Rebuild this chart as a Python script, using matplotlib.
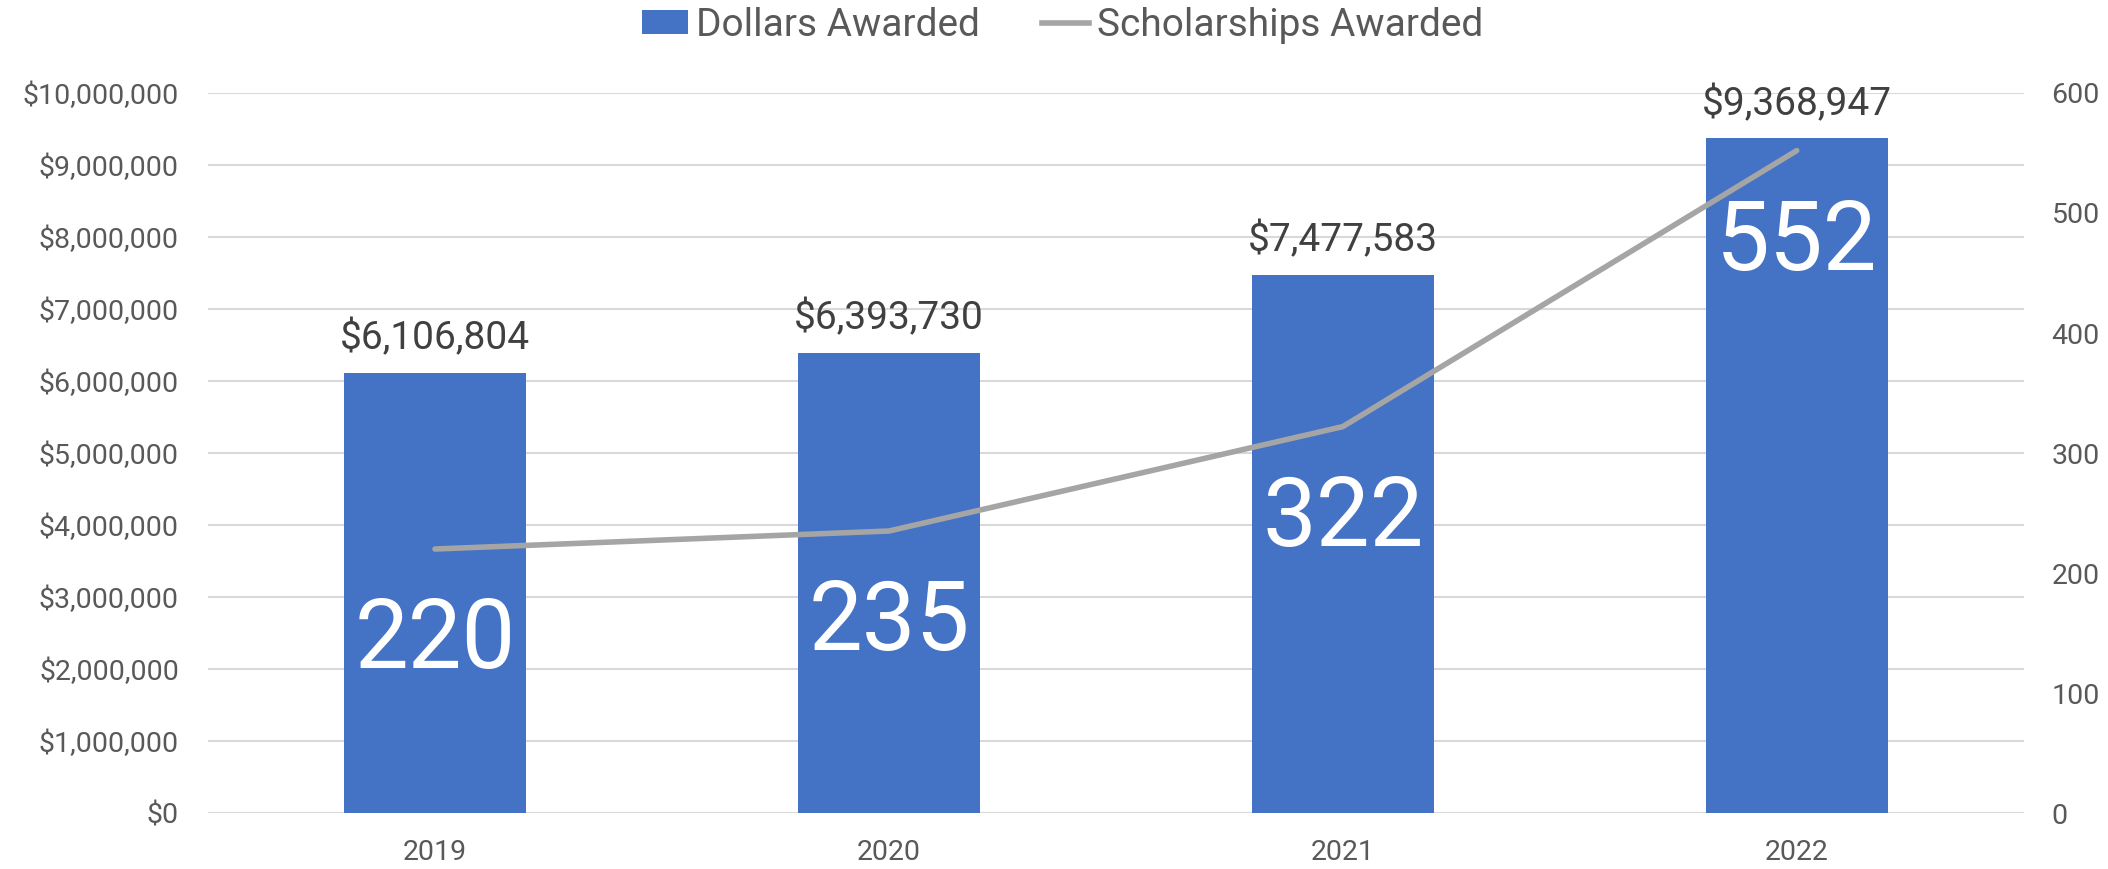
#!/usr/bin/env python3
"""Scholarship dollars and counts by year, bar + line combo chart."""
import matplotlib
matplotlib.use("Agg")
import matplotlib.pyplot as plt
from matplotlib.ticker import FuncFormatter, MultipleLocator
from matplotlib.patches import Patch
from matplotlib.lines import Line2D

years = ["2019", "2020", "2021", "2022"]
dollars = [6106804, 6393730, 7477583, 9368947]
scholarships = [220, 235, 322, 552]

BAR_COLOR = "#4472C4"
LINE_COLOR = "#A5A5A5"
GRID_COLOR = "#D9D9D9"
TICK_COLOR = "#595959"
LABEL_COLOR = "#404040"

plt.rcParams["font.family"] = ["Roboto", "DejaVu Sans"]

fig = plt.figure(figsize=(21.08, 8.69), dpi=100)
ax = fig.add_axes([0.0987, 0.0644, 0.8613, 0.8286])
x = list(range(len(years)))

ax.bar(x, dollars, width=0.4, color=BAR_COLOR, zorder=2)
ax.set_xlim(-0.5, len(years) - 0.5)
ax.set_ylim(0, 10_000_000)
ax.yaxis.set_major_locator(MultipleLocator(1_000_000))
ax.yaxis.set_major_formatter(FuncFormatter(lambda v, _: f"${v:,.0f}"))
ax.set_xticks(x)
ax.set_xticklabels(years)
ax.grid(axis="y", color=GRID_COLOR, linewidth=1.5, zorder=0)
ax.set_axisbelow(True)
for s in ax.spines.values():
    s.set_visible(False)
ax.tick_params(axis="both", length=0, labelsize=20.5, colors=TICK_COLOR)
ax.tick_params(axis="y", pad=21)
ax.tick_params(axis="x", pad=19)

for xi, d in zip(x, dollars):
    ax.annotate(f"${d:,}", (xi, d), xytext=(0, 17), textcoords="offset points",
                ha="center", va="baseline", fontsize=28, color=LABEL_COLOR)

ax2 = ax.twinx()
ax2.plot(x, scholarships, color=LINE_COLOR, linewidth=4, solid_capstyle="round", zorder=3)
ax2.set_ylim(0, 600)
ax2.yaxis.set_major_locator(MultipleLocator(100))
for s in ax2.spines.values():
    s.set_visible(False)
ax2.tick_params(axis="y", length=0, labelsize=20.5, colors=TICK_COLOR, pad=20)

for xi, n in zip(x, scholarships):
    ax2.annotate(str(n), (xi, n), xytext=(0, -86), textcoords="offset points",
                 ha="center", va="baseline", fontsize=69, color="white")

handles = [Patch(facecolor=BAR_COLOR, edgecolor="none"),
           Line2D([0], [0], color=LINE_COLOR, linewidth=4)]
fig.legend(handles, ["Dollars Awarded", "Scholarships Awarded"],
           loc="center", bbox_to_anchor=(0.504, 0.971), ncol=2, frameon=False,
           fontsize=28, labelcolor=TICK_COLOR, handlelength=1.2, handleheight=0.6,
           handletextpad=0.2, columnspacing=1.6, borderpad=0)

fig.savefig("out.png", dpi=100)
